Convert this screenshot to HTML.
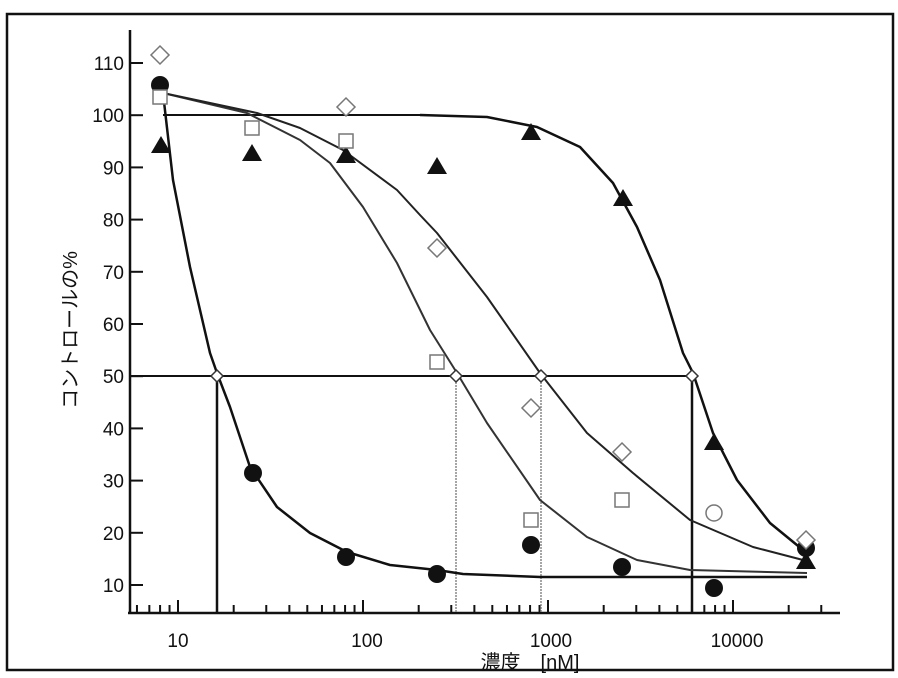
<!DOCTYPE html>
<html><head><meta charset="utf-8"><style>
html,body{margin:0;padding:0;background:#fff;}
svg{display:block;}
text{font-family:"Liberation Sans","Noto Sans CJK JP",sans-serif;fill:#111;}
</style></head><body>
<svg id="s" width="898" height="678" viewBox="0 0 898 678" xmlns="http://www.w3.org/2000/svg">
<rect x="7" y="14" width="886" height="656" fill="none" stroke="#111" stroke-width="2.5"/>
<g stroke="#111" stroke-width="2.5" fill="none">
<line x1="130" y1="30" x2="130" y2="614"/>
<line x1="128" y1="613" x2="840" y2="613"/>
</g>
<g id="yt" font-size="19" text-anchor="end"></g>
<g id="xt" stroke="#111" stroke-width="2"></g>
<g font-size="19" text-anchor="middle">
<text x="178" y="647">10</text><text x="367" y="647">100</text><text x="551" y="647">1000</text><text x="737" y="647">10000</text>
</g>
<text x="530" y="669" font-size="20" text-anchor="middle">濃度　[nM]</text>
<text transform="translate(77,330) rotate(-90)" font-size="20" text-anchor="middle">コントロールの%</text>
<!-- reference lines -->
<g fill="none">
<line x1="163" y1="115" x2="420" y2="115" stroke="#111" stroke-width="2"/>
<line x1="130" y1="376" x2="693" y2="376" stroke="#111" stroke-width="2"/>
<line x1="217" y1="376" x2="217" y2="613" stroke="#111" stroke-width="2.5"/>
<line x1="692" y1="376" x2="692" y2="613" stroke="#111" stroke-width="2.5"/>
<line x1="456" y1="376" x2="456" y2="613" stroke="#888" stroke-width="1.5" stroke-dasharray="2,1"/>
<line x1="541" y1="376" x2="541" y2="613" stroke="#888" stroke-width="1.5" stroke-dasharray="2,1"/>
</g>
<g fill="none" stroke-linejoin="round">
<polyline stroke="#111" stroke-width="2.5" points="163,93 173,180 190,267 210,353 217,373 230,407 250,467 277,507 310,533 347,552 390,565 437,570 463,574 540,577 807,577"/>
<polyline stroke="#333" stroke-width="2" points="163,93 247,113 300,140 330,163 363,207 397,263 430,330 457,373 487,423 540,500 587,537 637,560 690,570 807,573"/>
<polyline stroke="#222" stroke-width="2" points="163,93 257,113 300,128 343,150 397,190 420,215 437,233 487,297 540,373 587,433 633,473 690,520 753,547 803,560"/>
<polyline stroke="#111" stroke-width="2.5" points="420,115 487,117 537,127 580,147 613,183 637,227 660,280 683,353 693,373 713,433 737,480 770,523 803,550"/>
</g>
<g id="mk"></g>
</svg>
<script>
var NS="http://www.w3.org/2000/svg",yt=document.getElementById('yt'),xt=document.getElementById('xt'),mk=document.getElementById('mk');
function el(p,tag,a,t){var e=document.createElementNS(NS,tag);for(var k in a)e.setAttribute(k,a[k]);if(t)e.textContent=t;p.appendChild(e);return e;}
for(var v=10;v<=110;v+=10){var y=585-(v-10)*5.22;el(yt,'text',{x:124,y:y+7},String(v));el(xt,'line',{x1:130,y1:y,x2:143,y2:y});}
function X(c){return 178+185*Math.log10(c/10);}
for(var d=1;d<=10000;d*=10)for(var m=1;m<10;m++){var c=d*m;if(c<5||c>35000)continue;var x=X(c);if(x<132||x>838)continue;el(xt,'line',{x1:x,y1:613,x2:x,y2:(m==1?600:605)});}
var circ=[[160,85],[253,473],[346,557],[437,574],[531,545],[622,567],[714,588],[806,548]];
circ.forEach(function(p){el(mk,'circle',{cx:p[0],cy:p[1],r:9,fill:'#111'});});
var tri=[[161,145],[252,153],[346,155],[437,166],[531,132],[623,198],[714,442],[806,561]];
tri.forEach(function(p){el(mk,'polygon',{points:(p[0]-10)+','+(p[1]+8)+' '+(p[0]+10)+','+(p[1]+8)+' '+p[0]+','+(p[1]-9),fill:'#111'});});
var sq=[[160,97],[252,128],[346,141],[437,362],[531,520],[622,500]];
sq.forEach(function(p){el(mk,'rect',{x:p[0]-7,y:p[1]-7,width:14,height:14,fill:'#fff',stroke:'#777','stroke-width':1.5});});
el(mk,'circle',{cx:714,cy:513,r:8,fill:'#fff',stroke:'#777','stroke-width':1.5});
var dia=[[160,55],[346,107],[437,248],[531,408],[622,452],[806,540]];
dia.forEach(function(p){el(mk,'polygon',{points:p[0]+','+(p[1]-9)+' '+(p[0]+9)+','+p[1]+' '+p[0]+','+(p[1]+9)+' '+(p[0]-9)+','+p[1],fill:'#fff',stroke:'#777','stroke-width':1.5});});
[[217,376],[456,376],[541,376],[692,376]].forEach(function(p){el(mk,'polygon',{points:p[0]+','+(p[1]-6)+' '+(p[0]+6)+','+p[1]+' '+p[0]+','+(p[1]+6)+' '+(p[0]-6)+','+p[1],fill:'#fff',stroke:'#333','stroke-width':1.5});});
</script>
</body></html>
